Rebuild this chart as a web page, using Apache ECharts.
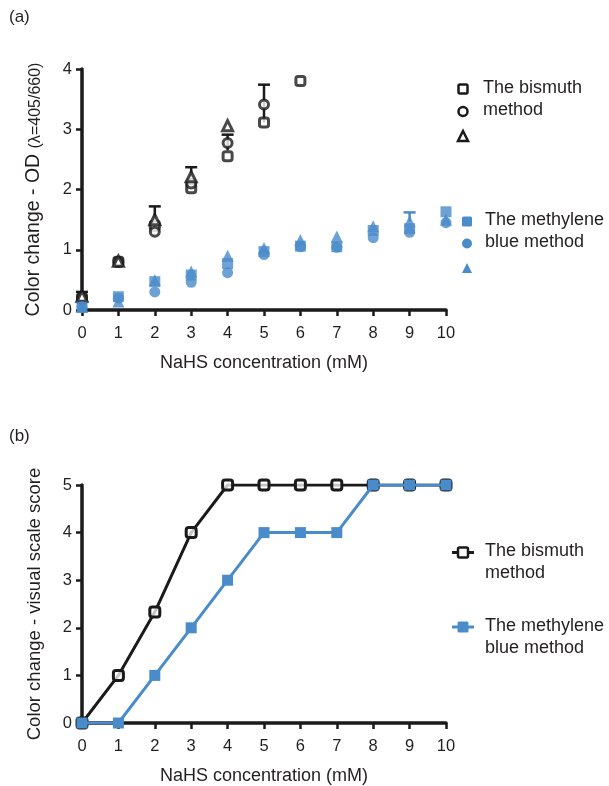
<!DOCTYPE html>
<html>
<head>
<meta charset="utf-8">
<script src="https://cdn.jsdelivr.net/npm/echarts@6/dist/echarts.min.js"></script>
<style>
html,body{margin:0;padding:0;background:#fff;}
#c{width:609px;height:786px;}
</style>
</head>
<body>
<div id="c"></div>
<script>
// ---------- data ----------
var xCats = [0, 1, 2, 3, 4, 5, 6, 7, 8, 9, 10];
var xTicks = ['0','1','2','3','4','5','6','7','8','9','10'];
// Panel (a): OD values (three replicate marker sets per method)
var bisSquare   = [0.19, 0.80, 1.40, 2.02, 2.55, 3.11, 3.80];
var bisCircle   = [0.21, 0.80, 1.30, 2.10, 2.77, 3.41];
var bisTriangle = [0.23, 0.81, 1.50, 2.21, 3.06];
var mbSquare    = [0.05, 0.22, 0.47, 0.58, 0.77, 0.97, 1.06, 1.05, 1.32, 1.35, 1.63];
var mbCircle    = [0.05, 0.20, 0.30, 0.46, 0.62, 0.92, 1.05, 1.04, 1.20, 1.29, 1.45];
var mbTriangle  = [0.05, 0.14, 0.50, 0.64, 0.90, 1.03, 1.16, 1.22, 1.39, 1.47, 1.50];
// error bars [x, low, high]
var bisErr = [[0, 0.20, 0.30], [2, 1.50, 1.72], [3, 2.21, 2.37], [4, 2.65, 2.91], [5, 3.12, 3.74]];
var mbErr  = [[9, 1.47, 1.62]];
// Panel (b): visual scale score
var bisScore = [0, 1, 2.33, 4, 5, 5, 5, 5, 5, 5, 5];
var mbScore  = [0, 0, 1, 2, 3, 4, 4, 4, 5, 5, 5];

var BLUE = '#4a8bca';
var BLACK = '#1a1a1a';
var FONT = '"Liberation Sans", Arial, Helvetica, sans-serif';
var TXT = '#231f20';

function pairs(arr){ return arr.map(function(v,i){ return [xCats[i], v]; }); }

function errSeries(data, color, xi, yi){
  return {
    type: 'custom', xAxisIndex: xi, yAxisIndex: yi, z: 1,
    data: data,
    renderItem: function(params, api){
      var x = api.value(0), lo = api.value(1), hi = api.value(2);
      var p1 = api.coord([x, lo]), p2 = api.coord([x, hi]);
      var w = 6;
      return { type: 'group', children: [
        { type: 'line', shape: {x1: p1[0], y1: p1[1], x2: p2[0], y2: p2[1]}, style: {stroke: color, lineWidth: 2.5} },
        { type: 'line', shape: {x1: p2[0]-w, y1: p2[1], x2: p2[0]+w, y2: p2[1]}, style: {stroke: color, lineWidth: 2.5} }
      ]};
    }
  };
}

function scat(arr, sym, open, color, size, z){
  return {
    type: 'scatter', xAxisIndex: 0, yAxisIndex: 0, z: z,
    data: pairs(arr), symbol: sym, symbolSize: size,
    itemStyle: open ? {color: '#fff', borderColor: color, borderWidth: 3} : {color: color},
    emphasis: {disabled: true}
  };
}

function xAxisDef(gi){
  return {
    gridIndex: gi, type: 'value', min: 0, max: 10, interval: 1,
    axisLine: {show: true, onZero: false, lineStyle: {color: BLACK, width: 3.5}},
    axisTick: {show: true, length: 6, lineStyle: {color: BLACK, width: 2.5}},
    axisLabel: {fontSize: 16.5, color: TXT, fontFamily: FONT, margin: 15,
      formatter: function(v){ return xTicks[v]; }},
    splitLine: {show: false},
    name: 'NaHS concentration (mM)', nameLocation: 'middle', nameGap: 44,
    nameTextStyle: {fontSize: 18, color: TXT, fontFamily: FONT}
  };
}
function yAxisDef(gi, max, name, size, rich){
  return {
    gridIndex: gi, type: 'value', min: 0, max: max, interval: 1,
    axisLine: {show: true, onZero: false, lineStyle: {color: BLACK, width: 3.5}},
    axisTick: {show: true, length: 6, lineStyle: {color: BLACK, width: 2.5}},
    axisLabel: {fontSize: 16.5, color: TXT, fontFamily: FONT, margin: 10},
    splitLine: {show: false},
    name: name, nameLocation: 'middle', nameGap: 38, nameRotate: 90,
    nameTextStyle: {fontSize: size, color: TXT, fontFamily: FONT, rich: rich}
  };
}

var chart = echarts.init(document.getElementById('c'), null, {renderer: 'canvas'});

function txt(x, y, s, size){
  return {type: 'text', left: x, top: y - 10, style: {text: s, fontSize: size || 18, fill: TXT, font: (size||18) + 'px ' + FONT}};
}
function sym(shape, cx, cy, r, open, color){
  var st = open ? {fill: '#fff', stroke: color, lineWidth: 2.5} : {fill: color};
  if (shape === 'rect') return {type: 'rect', shape: {x: cx - r, y: cy - r, width: 2*r, height: 2*r, r: 1.5}, style: st};
  if (shape === 'circle') return {type: 'circle', shape: {cx: cx, cy: cy, r: r}, style: st};
  return {type: 'polygon', shape: {points: [[cx, cy - r - 1], [cx + r, cy + r - 1], [cx - r, cy + r - 1]]}, style: st};
}

var graphics = [
  txt(9, 19, '(a)', 17), txt(9, 438, '(b)', 17),
  // legend (a)
  sym('rect', 463, 89, 4.5, true, BLACK),
  sym('circle', 463, 111.5, 4.5, true, BLACK),
  sym('tri', 463, 137, 5, true, BLACK),
  txt(483, 89, 'The bismuth'), txt(483, 111.5, 'method'),
  sym('rect', 467, 221.5, 5, false, BLUE),
  sym('circle', 467, 243.5, 5, false, BLUE),
  sym('tri', 467, 269, 5, false, BLUE),
  txt(485, 221.5, 'The methylene'), txt(485, 243.5, 'blue method'),
  // legend (b)
  {type: 'line', shape: {x1: 452, y1: 552.5, x2: 474, y2: 552.5}, style: {stroke: BLACK, lineWidth: 3}},
  sym('rect', 463, 552.5, 5, true, BLACK),
  txt(485, 552.5, 'The bismuth'), txt(485, 574.5, 'method'),
  {type: 'line', shape: {x1: 452, y1: 627, x2: 474, y2: 627}, style: {stroke: BLUE, lineWidth: 3}},
  sym('rect', 463, 627, 5.5, false, BLUE),
  txt(485, 627, 'The methylene'), txt(485, 649, 'blue method')
];

chart.setOption({
  animation: false,
  backgroundColor: '#fff',
  textStyle: {fontFamily: FONT},
  grid: [
    {left: 82, top: 69, width: 364, height: 241, containLabel: false},
    {left: 82, top: 485, width: 364, height: 243, containLabel: false}
  ],
  xAxis: [xAxisDef(0), xAxisDef(1)],
  yAxis: [
    yAxisDef(0, 4, '{a|Color change - OD }{b|(λ=405/660)}', 19, {
      a: {fontSize: 19.5, color: TXT, fontFamily: FONT},
      b: {fontSize: 16, color: TXT, fontFamily: FONT, padding: [5, 0, 0, 0]}
    }),
    yAxisDef(1, 5, 'Color change - visual scale score', 18.5)
  ],
  graphic: graphics,
  series: [
    errSeries(bisErr, BLACK, 0, 0),
    scat(bisSquare, 'roundRect', true, BLACK, 9, 3),
    scat(bisCircle, 'circle', true, BLACK, 9, 3),
    scat(bisTriangle, 'triangle', true, BLACK, 10, 3),
    errSeries(mbErr, BLUE, 0, 0),
    scat(mbTriangle, 'triangle', false, BLUE, 12, 4),
    scat(mbSquare, 'rect', false, BLUE, 11, 4),
    scat(mbCircle, 'circle', false, BLUE, 11, 4),
    {
      type: 'line', xAxisIndex: 1, yAxisIndex: 1, z: 3,
      data: pairs(bisScore), symbol: 'roundRect', symbolSize: 10,
      lineStyle: {color: BLACK, width: 3},
      itemStyle: {color: 'rgba(255,255,255,0.75)', borderColor: BLACK, borderWidth: 3},
      emphasis: {disabled: true}
    },
    {
      type: 'line', xAxisIndex: 1, yAxisIndex: 1, z: 4,
      data: pairs(mbScore), symbol: 'rect', symbolSize: 11,
      lineStyle: {color: BLUE, width: 3},
      itemStyle: {color: BLUE},
      emphasis: {disabled: true}
    }
  ]
});
</script>
</body>
</html>
